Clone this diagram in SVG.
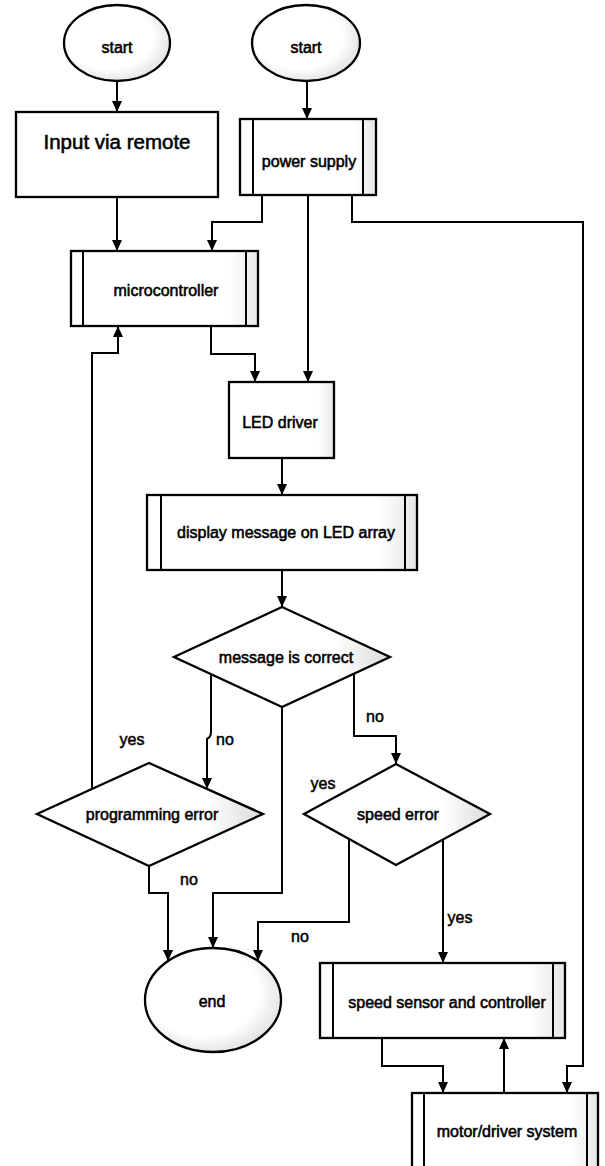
<svg xmlns="http://www.w3.org/2000/svg" width="605" height="1166" viewBox="0 0 605 1166">
<defs>
<marker id="arr" markerUnits="userSpaceOnUse" markerWidth="11" markerHeight="11" refX="11" refY="5" orient="auto">
<path d="M0,0 L11,5 L0,10 z" fill="#000"/>
</marker>
<radialGradient id="eg" cx="0.45" cy="0.45" r="0.6" fx="0.35" fy="0.35">
<stop offset="0.7" stop-color="#fff"/>
<stop offset="1" stop-color="#dedede"/>
</radialGradient>
<linearGradient id="dg" x1="0" y1="0" x2="1" y2="0">
<stop offset="0.75" stop-color="#fff"/>
<stop offset="1" stop-color="#dadada"/>
</linearGradient>
<linearGradient id="bg" x1="0" y1="0" x2="1" y2="0">
<stop offset="0.85" stop-color="#fff"/>
<stop offset="1" stop-color="#e6e6e6"/>
</linearGradient>
</defs>
<style>
.sh{stroke:#000;stroke-width:2.3;}
.ov{fill:url(#eg);}
.bx{fill:url(#bg);}
.dm{fill:url(#dg);}
.bar{stroke:#000;stroke-width:2;}
.t{font-family:"Liberation Sans",Arial,sans-serif;font-size:16px;fill:#000;text-anchor:middle;stroke:#000;stroke-width:0.55;}
.lb{font-family:"Liberation Sans",Arial,sans-serif;font-size:16px;fill:#000;text-anchor:middle;stroke:#000;stroke-width:0.5;}
.c{fill:none;stroke:#000;stroke-width:2;marker-end:url(#arr);}
</style>
<rect width="605" height="1166" fill="#fff"/>

<g id="connectors">
<path class="c" d="M117,81 V112"/>
<path class="c" d="M307,81 V119"/>
<path class="c" d="M117,197 V251"/>
<path class="c" d="M262,195 V222 H212 V251"/>
<path class="c" d="M308,195 V382"/>
<path class="c" d="M352,195 V222 H583 V1066 H567 V1093"/>
<path class="c" d="M211,326 V354 H255 V382"/>
<path class="c" d="M92,789 V353 H118 V326"/>
<path class="c" d="M282,458 V495"/>
<path class="c" d="M282,570 V607"/>
<path class="c" d="M211,674 V732 Q211,737 207,739 V789"/>
<path class="c" d="M354,674 V736 H396 V764"/>
<path class="c" d="M282,707 V893 H213 V948"/>
<path class="c" d="M149,866 V893 H168 V961"/>
<path class="c" d="M349,839 V922 H258 V961"/>
<path class="c" d="M443,840 V963"/>
<path class="c" d="M382,1038 V1066 H443 V1093"/>
<path class="c" d="M504,1093 V1038"/>
</g>

<g id="start1">
<ellipse class="sh ov" cx="117" cy="43" rx="53" ry="38"/>
<text class="t" x="117" y="53">start</text>
</g>
<g id="start2">
<ellipse class="sh ov" cx="306" cy="43" rx="54" ry="38"/>
<text class="t" x="306" y="53">start</text>
</g>
<g id="input">
<rect class="sh" fill="#fff" x="16" y="112" width="202" height="85"/>
<text class="t" x="117" y="149" style="font-size:20.5px">Input via remote</text>
</g>
<g id="power">
<rect class="sh bx" x="240" y="119" width="136" height="76"/>
<line class="bar" x1="253" y1="119" x2="253" y2="195"/>
<line class="bar" x1="363" y1="119" x2="363" y2="195"/>
<text class="t" x="309" y="167">power supply</text>
</g>
<g id="micro">
<rect class="sh bx" x="71" y="251" width="187" height="75"/>
<line class="bar" x1="83" y1="251" x2="83" y2="326"/>
<line class="bar" x1="246" y1="251" x2="246" y2="326"/>
<text class="t" x="166" y="296">microcontroller</text>
</g>
<g id="leddriver">
<rect class="sh bx" x="229" y="382" width="105" height="76"/>
<text class="t" x="280" y="428">LED driver</text>
</g>
<g id="display">
<rect class="sh bx" x="147" y="495" width="270" height="75"/>
<line class="bar" x1="161" y1="495" x2="161" y2="570"/>
<line class="bar" x1="405" y1="495" x2="405" y2="570"/>
<text class="t" x="286" y="538">display message on LED array</text>
</g>
<g id="msgcorrect">
<polygon class="sh dm" points="282,607 390,657 282,707 174,657"/>
<text class="t" x="286" y="663">message is correct</text>
</g>
<g id="progerror">
<polygon class="sh dm" points="149,763 263,814 149,866 37,814"/>
<text class="t" x="152" y="820">programming error</text>
</g>
<g id="speederror">
<polygon class="sh dm" points="396,764 490,814 396,865 304,814"/>
<text class="t" x="398" y="820">speed error</text>
</g>
<g id="end">
<ellipse class="sh ov" cx="213" cy="1000" rx="68" ry="52"/>
<text class="t" x="212" y="1007">end</text>
</g>
<g id="speedsensor">
<rect class="sh bx" x="320" y="963" width="245" height="75"/>
<line class="bar" x1="333" y1="963" x2="333" y2="1038"/>
<line class="bar" x1="553" y1="963" x2="553" y2="1038"/>
<text class="t" x="447" y="1008">speed sensor and controller</text>
</g>
<g id="motor">
<rect class="sh bx" x="412" y="1093" width="186" height="80"/>
<line class="bar" x1="424" y1="1093" x2="424" y2="1166"/>
<line class="bar" x1="587" y1="1093" x2="587" y2="1166"/>
<text class="t" x="507" y="1137">motor/driver system</text>
</g>

<g id="labels">
<text class="lb" x="132" y="745">yes</text>
<text class="lb" x="225" y="745">no</text>
<text class="lb" x="375" y="722">no</text>
<text class="lb" x="323" y="789">yes</text>
<text class="lb" x="189" y="885">no</text>
<text class="lb" x="300" y="942">no</text>
<text class="lb" x="460" y="923">yes</text>
</g>
</svg>
